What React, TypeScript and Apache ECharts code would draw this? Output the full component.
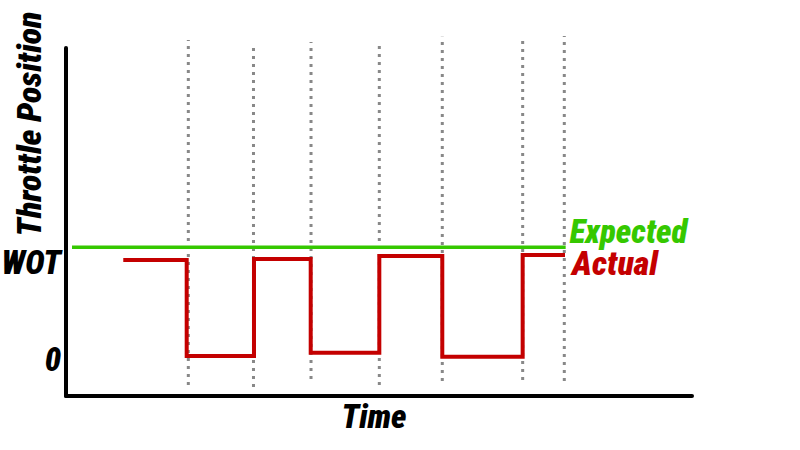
import React, { useEffect, useRef } from "react";
import * as echarts from "echarts";

// Y tick positions (value units) and their labels
const yTickValues = [10.6, 38.5];
const yTickLabels = ["0", "WOT"];

// Expected throttle (flat line)
const expectedX = [0.96, 79.82];
const expectedY = [42.73, 42.73];

// Actual throttle: switch times and level in each interval
const actualSwitchX = [9.15, 19.28, 30.03, 39.09, 50.05, 60.11, 72.95, 79.71];
const actualLevels = [39.08, 11.49, 39.37, 12.44, 40.23, 11.29, 40.52];

// Vertical dotted markers
const markerX = [19.54, 29.95, 39.14, 50.05, 60.11, 72.95, 79.6];
const markerTop = [102.3, 101.35, 101.7, 101.9, 103.25, 103.45, 103.45];
const markerBottom = [3.16, 2.59, 4.89, 3.16, 4.31, 4.6, 4.31];

const FONT = "'Roboto Condensed', 'Open Sans Condensed', 'DejaVu Sans Condensed', sans-serif";
const GREEN = "#35c800";
const RED = "#c40000";

export default function App() {
  const ref = useRef<HTMLDivElement>(null);

  useEffect(() => {
    if (!ref.current) return;
    const chart = echarts.init(ref.current, undefined, { renderer: "svg" });

    const actualData: number[][] = [];
    for (let i = 0; i < actualLevels.length; i++) {
      actualData.push([actualSwitchX[i], actualLevels[i]]);
      actualData.push([actualSwitchX[i + 1], actualLevels[i]]);
    }

    const markerSeries = markerX.map((x, i) => ({
      type: "line",
      silent: true,
      clip: false,
      symbol: "none",
      z: 1,
      lineStyle: { color: "#888888", width: 3, type: [3, 5] as any, cap: "butt" },
      data: [
        [x, markerBottom[i]],
        [x, markerTop[i]],
      ],
    }));

    const tb = {
      fontFamily: FONT,
      fontWeight: 900 as any,
      fontStyle: "italic" as const,
    };

    chart.setOption({
      animation: false,
      backgroundColor: "#ffffff",
      grid: { left: 66, right: 108, top: 48, bottom: 54, containLabel: false, outerBoundsMode: "none" },
      xAxis: {
        type: "value",
        min: 0,
        max: 100,
        name: "Time",
        nameLocation: "middle",
        nameGap: 4,
        nameMoveOverlap: false,
        nameTextStyle: { ...tb, fontSize: 33, color: "#000", padding: [0, 10, 0, 0] },
        axisLine: { show: true, lineStyle: { color: "#000", width: 4 } },
        axisTick: { show: false },
        axisLabel: { show: false },
        splitLine: { show: false },
      },
      yAxis: {
        type: "value",
        min: 0,
        max: 100,
        name: "Throttle Position",
        nameLocation: "middle",
        nameRotate: 90,
        nameGap: 20,
        nameMoveOverlap: false,
        nameTextStyle: { ...tb, fontSize: 34, color: "#000", padding: [0, 0, 0, 196] },
        axisLine: { show: true, lineStyle: { color: "#000", width: 4 } },
        axisTick: { show: false },
        splitLine: { show: false },
        axisLabel: {
          show: true,
          customValues: yTickValues,
          margin: 5,
          ...tb,
          fontSize: 33,
          color: "#000",
          formatter: (v: number) => {
            let best = 0;
            for (let i = 0; i < yTickValues.length; i++) {
              if (Math.abs(yTickValues[i] - v) < Math.abs(yTickValues[best] - v)) best = i;
            }
            return yTickLabels[best];
          },
        },
      },
      series: [
        ...markerSeries,
        {
          name: "Expected",
          type: "line",
          clip: false,
          symbol: "none",
          z: 3,
          lineStyle: { color: GREEN, width: 3.5, cap: "butt" },
          data: expectedX.map((x, i) => [x, expectedY[i]]),
          endLabel: {
            show: true,
            formatter: "Expected",
            ...tb,
            fontSize: 33,
            lineHeight: 28,
            color: GREEN,
            distance: 4,
            offset: [0, -16],
          },
        },
        {
          name: "Actual",
          type: "line",
          clip: false,
          symbol: "none",
          z: 4,
          lineStyle: { color: RED, width: 4, cap: "butt", join: "miter" },
          data: actualData,
          endLabel: {
            show: true,
            formatter: "Actual",
            ...tb,
            fontSize: 34,
            lineHeight: 28,
            color: RED,
            distance: 7,
            offset: [0, 8],
          },
        },
      ],
    });

    return () => chart.dispose();
  }, []);

  return (
    <div
      ref={ref}
      style={{ position: "fixed", left: 0, top: 0, width: 800, height: 450, background: "#fff" }}
    />
  );
}
